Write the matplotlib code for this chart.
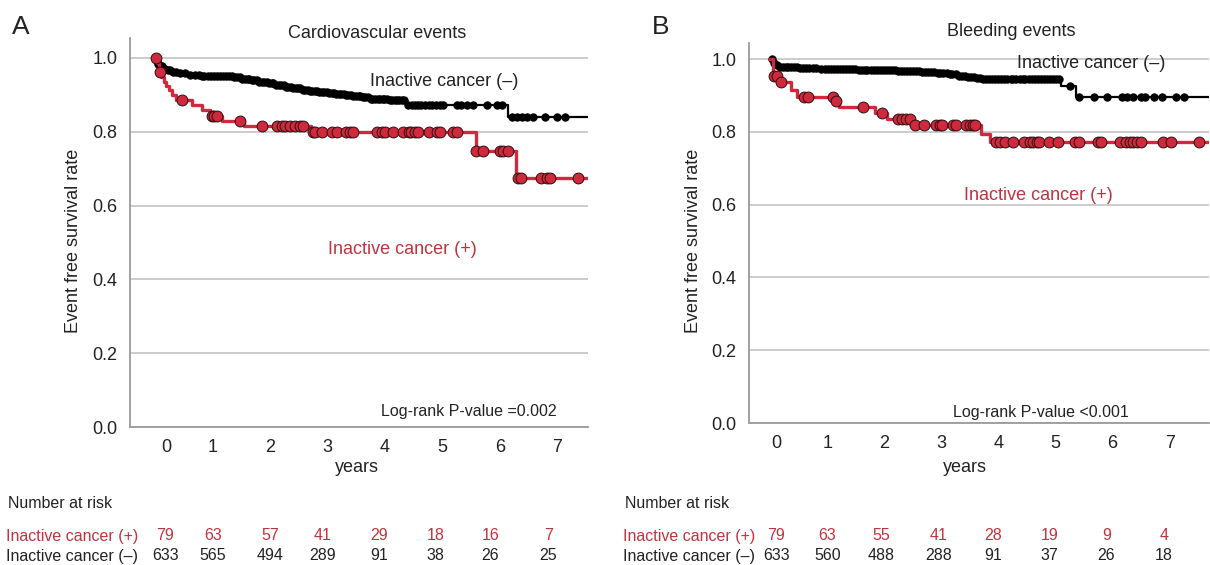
import matplotlib.pyplot as plt
import numpy as np

plt.rcParams['font.family'] = ['Liberation Sans', 'DejaVu Sans']

# ---- Panel A: cardiovascular events ----
cv_pos_times = [0, 0.03, 0.07, 0.11, 0.15, 0.19, 0.24, 0.30, 0.36, 0.64, 0.81, 0.96, 1.16, 1.54, 2.72, 5.58, 6.27]
cv_pos_surv = [1.0, 0.987, 0.962, 0.949, 0.936, 0.924, 0.912, 0.899, 0.886, 0.873, 0.859, 0.844, 0.830, 0.816, 0.798, 0.749, 0.674]
cv_pos_cens = [0.01, 0.08, 0.47, 0.99, 1.03, 1.07, 1.48, 1.86, 2.12, 2.20, 2.26, 2.35, 2.43, 2.52, 2.58,
               2.74, 2.78, 2.90, 3.07, 3.16, 3.33, 3.39, 3.45, 3.86, 3.94, 4.00, 4.14, 4.32, 4.41, 4.46,
               4.52, 4.58, 4.77, 4.91, 4.96, 5.19, 5.26, 5.59, 5.70, 6.00, 6.06, 6.14, 6.32, 6.36, 6.72,
               6.81, 6.87, 7.36]

cv_neg_times = [0, 0.02, 0.05, 0.09, 0.14, 0.20, 0.28, 0.38, 0.55, 0.80, 1.35, 1.50, 1.65, 1.80, 1.95, 2.10,
                2.25, 2.40, 2.55, 2.70, 2.85, 3.00, 3.15, 3.30, 3.45, 3.60, 3.75, 3.90, 4.05, 4.38, 6.14]
cv_neg_surv = [1.0, 0.992, 0.984, 0.977, 0.971, 0.966, 0.962, 0.958, 0.955, 0.952, 0.948, 0.944, 0.940, 0.936,
               0.931, 0.927, 0.922, 0.918, 0.914, 0.911, 0.908, 0.905, 0.902, 0.899, 0.896, 0.893, 0.890,
               0.888, 0.886, 0.872, 0.841]
cv_neg_cens = [0.03, 0.06, 0.10, 0.13, 0.17, 0.22, 0.26, 0.31, 0.36, 0.43, 0.52, 0.61, 0.70, 0.77, 0.81,
               0.86, 0.92, 0.97, 1.02, 1.07, 1.13, 1.18, 1.23, 1.29, 1.34, 1.38, 1.43, 1.47, 1.52, 1.56,
               1.61, 1.64, 1.69, 1.73, 1.78, 1.81, 1.86, 1.90, 1.94, 1.99, 2.03, 2.06, 2.11, 2.15, 2.19,
               2.24, 2.27, 2.32, 2.36, 2.40, 2.45, 2.49, 2.52, 2.57, 2.61, 2.66, 2.70, 2.73, 2.78, 2.82,
               2.86, 2.91, 2.94, 2.99, 3.03, 3.07, 3.12, 3.15, 3.20, 3.24, 3.28, 3.33, 3.36, 3.41, 3.45,
               3.49, 3.54, 3.57, 3.62, 3.66, 3.70, 3.75, 3.78, 3.83, 3.87, 3.91, 3.96, 3.99, 4.04, 4.08,
               4.12, 4.17, 4.20, 4.25, 4.29, 4.33, 4.40, 4.47, 4.53, 4.58, 4.63, 4.70, 4.76, 4.82, 4.88,
               4.95, 5.00, 5.25, 5.32, 5.42, 5.53, 5.77, 5.95, 6.03, 6.20, 6.30, 6.38, 6.47, 6.58, 6.78,
               6.99, 7.13]

cv_risk_pos = [79, 63, 57, 41, 29, 18, 16, 7]
cv_risk_neg = [633, 565, 494, 289, 91, 38, 26, 25]

# ---- Panel B: bleeding events ----
bl_pos_times = [0, 0.05, 0.17, 0.36, 0.46, 1.12, 1.20, 1.84, 2.04, 2.47, 3.69, 3.85]
bl_pos_surv = [1.0, 0.952, 0.938, 0.916, 0.895, 0.884, 0.867, 0.852, 0.836, 0.820, 0.795, 0.773]
bl_pos_cens = [0.06, 0.12, 0.19, 0.59, 0.66, 1.09, 1.15, 1.63, 1.96, 2.24, 2.31, 2.37, 2.44, 2.54, 2.70,
               2.90, 2.97, 3.00, 3.20, 3.26, 3.43, 3.49, 3.56, 3.59, 3.96, 4.03, 4.12, 4.25, 4.45, 4.55,
               4.61, 4.68, 4.71, 4.88, 5.04, 5.34, 5.41, 5.74, 5.80, 6.13, 6.23, 6.30, 6.36, 6.43, 6.49,
               6.89, 7.02, 7.52]

bl_neg_times = [0, 0.05, 0.10, 0.15, 0.50, 0.85, 1.50, 2.20, 2.64, 2.90, 3.10, 3.30, 3.45, 3.60, 3.70, 5.10, 5.36]
bl_neg_surv = [1.0, 0.990, 0.984, 0.978, 0.975, 0.972, 0.970, 0.968, 0.965, 0.962, 0.958, 0.953, 0.950,
               0.947, 0.945, 0.925, 0.895]
bl_neg_cens = [0.02, 0.07, 0.12, 0.17, 0.22, 0.27, 0.31, 0.36, 0.41, 0.46, 0.52, 0.57, 0.62, 0.68, 0.74,
               0.79, 0.88, 0.95, 1.00, 1.06, 1.11, 1.17, 1.22, 1.27, 1.33, 1.38, 1.43, 1.49, 1.55, 1.60,
               1.65, 1.70, 1.76, 1.81, 1.86, 1.92, 1.97, 2.02, 2.08, 2.13, 2.18, 2.23, 2.29, 2.34, 2.39,
               2.45, 2.50, 2.55, 2.61, 2.66, 2.71, 2.77, 2.82, 2.87, 2.93, 2.98, 3.03, 3.09, 3.14, 3.19,
               3.25, 3.30, 3.35, 3.41, 3.46, 3.51, 3.57, 3.62, 3.67, 3.73, 3.78, 3.83, 3.89, 3.94, 3.99,
               4.05, 4.10, 4.15, 4.21, 4.26, 4.31, 4.37, 4.42, 4.47, 4.53, 4.58, 4.63, 4.69, 4.74, 4.79,
               4.85, 4.90, 4.95, 5.01, 5.06, 5.26, 5.41, 5.67, 5.90, 6.16, 6.26, 6.36, 6.49, 6.56, 6.72,
               6.86, 7.12, 7.25]

bl_risk_pos = [79, 63, 55, 41, 28, 19, 9, 4]
bl_risk_neg = [633, 560, 488, 288, 91, 37, 26, 18]

year_labels = ['0', '1', '2', '3', '4', '5', '6', '7']

RED = '#d0283c'
RED_TXT = '#c0333f'
TXT = '#222222'
GRID = '#c8c8c8'
SPINE = '#9a9a9a'
W, H = 1210.0, 565.0


def surv_at(times, surv, t):
    idx = np.searchsorted(times, t, side='right') - 1
    return np.asarray(surv)[idx]


def km_curve(ax, times, surv, cens, x_end, color, ms, mec, lw, z):
    t = list(times) + [x_end]
    s = list(surv) + [surv[-1]]
    ax.step(t, s, where='post', color=color, lw=lw, zorder=z)
    cy = surv_at(times, surv, np.array(cens))
    ax.plot(cens, cy, 'o', ms=ms, mfc=color, mec=mec, mew=0.7, zorder=z + 0.5, ls='none')


def draw_panel(fig, rect, xlim, ylim_top, tick_pos, risk_cols, pos, neg, risk_pos, risk_neg,
               title, title_xy, letter, neg_lbl, pos_lbl, pval, pval_xy, ylab_x, years_x, table_x):
    ax = fig.add_axes(rect)
    ax.set_xlim(*xlim)
    ax.set_ylim(0, ylim_top)

    km_curve(ax, *neg, xlim[1], 'black', 5.3, 'black', 1.6, 3)
    km_curve(ax, *pos, xlim[1], RED, 7.8, '#2a1010', 2.4, 5)

    ax.set_yticks([0.0, 0.2, 0.4, 0.6, 0.8, 1.0])
    ax.set_yticklabels(['0.0', '0.2', '0.4', '0.6', '0.8', '1.0'])
    ax.set_xticks(tick_pos)
    ax.set_xticklabels(year_labels)
    ax.tick_params(axis='both', length=0, labelsize=13, colors=TXT, pad=9)
    ax.yaxis.grid(True, color=GRID, lw=1.3)
    ax.set_axisbelow(True)
    for side in ['top', 'right']:
        ax.spines[side].set_visible(False)
    for side in ['left', 'bottom']:
        ax.spines[side].set_color(SPINE)
        ax.spines[side].set_linewidth(1.3)

    ax.text(neg_lbl[0], neg_lbl[1], 'Inactive cancer (\u2013)', fontsize=13, color=TXT,
            ha='left', va='center')
    ax.text(pos_lbl[0], pos_lbl[1], 'Inactive cancer (+)', fontsize=13, color=RED_TXT,
            ha='left', va='center')
    ax.text(pval_xy[0], pval_xy[1], pval, fontsize=11.5, color=TXT, ha='right', va='center')

    fig.text(title_xy[0] / W, 1 - title_xy[1] / H, title, fontsize=13, ha='center', va='center', color=TXT)
    fig.text(letter[0] / W, 1 - letter[1] / H, letter[2], fontsize=19, ha='left', va='center', color=TXT)
    fig.text(ylab_x / W, 1 - 241 / H, 'Event free survival rate', fontsize=13, rotation=90,
             ha='center', va='center', color=TXT)
    fig.text(years_x / W, 1 - 467 / H, 'years', fontsize=13, ha='center', va='center', color=TXT)

    # number at risk table
    fig.text((table_x + 2) / W, 1 - 503 / H, 'Number at risk', fontsize=11.5, ha='left',
             va='center', color=TXT)
    fig.text(table_x / W, 1 - 536 / H, 'Inactive cancer (+)', fontsize=11.5, ha='left',
             va='center', color=RED_TXT)
    fig.text(table_x / W, 1 - 556 / H, 'Inactive cancer (\u2013)', fontsize=11.5, ha='left',
             va='center', color=TXT)
    for xc, a, b in zip(risk_cols, risk_pos, risk_neg):
        xf = fig.transFigure.inverted().transform(ax.transData.transform((xc, 0)))[0]
        fig.text(xf, 1 - 536 / H, str(a), fontsize=11.5, ha='center', va='center', color=RED_TXT)
        fig.text(xf, 1 - 556 / H, str(b), fontsize=11.5, ha='center', va='center', color=TXT)
    return ax


fig = plt.figure(figsize=(12.1, 5.65), dpi=100)

rect_a = [130 / W, 1 - 427 / H, (588 - 130) / W, (427 - 38) / H]
rect_b = [749 / W, 1 - 423 / H, (1209 - 749) / W, (423 - 43) / H]

draw_panel(fig, rect_a, (-0.435, 7.53), 1.054, [0.19, 1, 2, 3, 4, 5, 6, 7],
           [0.18, 1.01, 2.0, 2.92, 3.9, 4.88, 5.83, 6.84],
           (cv_pos_times, cv_pos_surv, cv_pos_cens),
           (cv_neg_times, cv_neg_surv, cv_neg_cens),
           cv_risk_pos, cv_risk_neg, 'Cardiovascular events', (377, 33), (12, 27, 'A'),
           (3.74, 0.936), (3.01, 0.482), 'Log-rank P-value =0.002', (6.99, 0.041),
           73, 357, 6)
draw_panel(fig, rect_b, (-0.377, 7.69), 1.044, [0.1, 1, 2, 3, 4, 5, 6, 7],
           [0.1, 1.0, 1.94, 2.95, 3.9, 4.89, 5.89, 6.9],
           (bl_pos_times, bl_pos_surv, bl_pos_cens),
           (bl_neg_times, bl_neg_surv, bl_neg_cens),
           bl_risk_pos, bl_risk_neg, 'Bleeding events', (1011, 31), (652, 27, 'B'),
           (4.32, 0.989), (3.39, 0.626), 'Log-rank P-value <0.001', (6.29, 0.028),
           693, 965, 623)

fig.savefig('out.png', dpi=100)
